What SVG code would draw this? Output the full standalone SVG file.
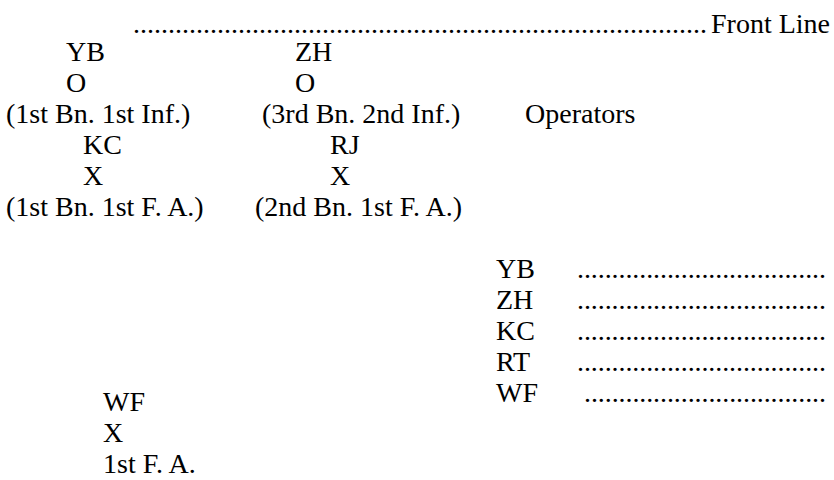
<svg xmlns="http://www.w3.org/2000/svg" width="834" height="480" viewBox="0 0 834 480">
  <style>
    text { font-family: "Liberation Serif", "Times New Roman", serif; font-size: 28px; fill: #000; }
  </style>
  <rect width="834" height="480" fill="#fff"/>
  <!-- front line -->
  <g id="front-line">
    <text x="133" y="33" textLength="574" lengthAdjust="spacing">..................................................................................</text>
    <text x="830" y="33" text-anchor="end">Front Line</text>
  </g>
  <!-- infantry battalion stations -->
  <g id="node-yb">
    <text x="66" y="61">YB</text>
    <text x="66" y="92">O</text>
    <text x="6" y="123">(1st Bn. 1st Inf.)</text>
  </g>
  <g id="node-zh">
    <text x="295" y="61">ZH</text>
    <text x="295" y="92">O</text>
    <text x="262" y="123">(3rd Bn. 2nd Inf.)</text>
  </g>
  <!-- field artillery battalion stations -->
  <g id="node-kc">
    <text x="83" y="154">KC</text>
    <text x="83" y="185">X</text>
    <text x="6" y="216">(1st Bn. 1st F. A.)</text>
  </g>
  <g id="node-rj">
    <text x="330" y="154">RJ</text>
    <text x="330" y="185">X</text>
    <text x="255" y="216">(2nd Bn. 1st F. A.)</text>
  </g>
  <!-- regimental station -->
  <g id="node-wf">
    <text x="103" y="411">WF</text>
    <text x="103" y="442">X</text>
    <text x="103" y="473">1st F. A.</text>
  </g>
  <!-- operator list -->
  <g id="operators">
    <text x="525" y="123">Operators</text>
    <text x="496" y="278">YB</text>
    <text x="577" y="278" textLength="249" lengthAdjust="spacing">....................................</text>
    <text x="496" y="309">ZH</text>
    <text x="577" y="309" textLength="249" lengthAdjust="spacing">....................................</text>
    <text x="496" y="340">KC</text>
    <text x="577" y="340" textLength="249" lengthAdjust="spacing">....................................</text>
    <text x="496" y="371">RT</text>
    <text x="577" y="371" textLength="249" lengthAdjust="spacing">....................................</text>
    <text x="496" y="402">WF</text>
    <text x="584" y="402" textLength="242" lengthAdjust="spacing">...................................</text>
  </g>
  <g id="connectors"/>
</svg>
